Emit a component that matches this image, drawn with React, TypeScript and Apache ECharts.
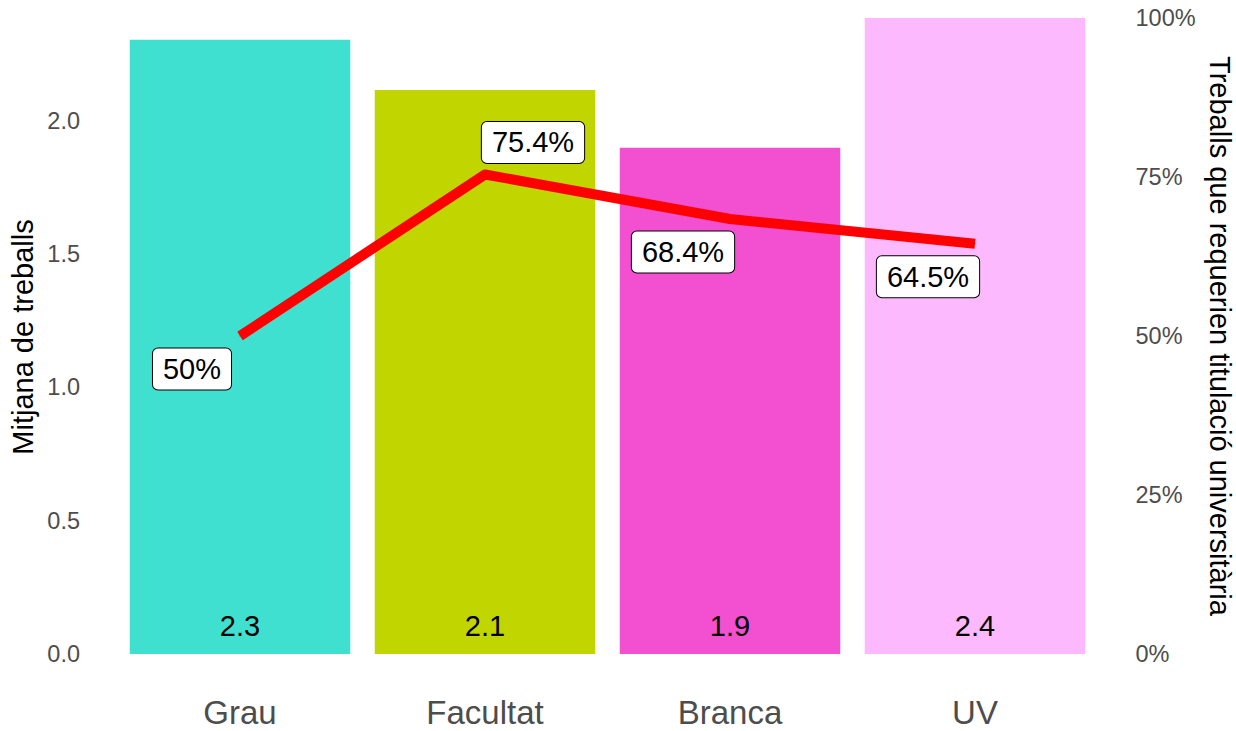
import React, { useEffect, useRef } from "react";
import * as echarts from "echarts";

const categories = ["Grau", "Facultat", "Branca", "UV"];
const meanJobs = [2.304, 2.116, 1.899, 2.386];
const pctDegree = [50, 75.4, 68.4, 64.5];
const barColors = ["#40E0D0", "#C1D500", "#F24FD1", "#FDB9FD"];
const leftTickStep = 0.5;
const rightTickStep = 25;

// label offsets (styling only)
const lineLabelOffsets = [
  [-48, 33],
  [48, -32],
  [-47, 33],
  [-47, 33],
];

const FONT = "'Liberation Sans', Arial, Helvetica, sans-serif";

export default function App() {
  const ref = useRef<HTMLDivElement>(null);
  useEffect(() => {
    if (!ref.current) return;
    const chart = echarts.init(ref.current, null, { renderer: "svg" });
    const leftMax = Math.max(...meanJobs);
    const option: any = {
      animation: false,
      backgroundColor: "#ffffff",
      textStyle: { fontFamily: FONT },
      grid: { left: 117.5, right: 138.5, top: 18, bottom: 77, containLabel: false },
      xAxis: {
        type: "category",
        data: categories,
        boundaryGap: true,
        axisLine: { show: false },
        axisTick: { show: false },
        splitLine: { show: false },
        axisLabel: {
          color: "#4D4D4D",
          fontSize: 33,
          lineHeight: 33,
          margin: 42,
          fontFamily: FONT,
        },
      },
      yAxis: [
        {
          type: "value",
          min: 0,
          max: leftMax,
          interval: leftTickStep,
          axisLine: { show: false },
          axisTick: { show: false },
          splitLine: { show: false },
          axisLabel: {
            color: "#4D4D4D",
            fontSize: 23.5,
            margin: 37.5,
            fontFamily: FONT,
            formatter: (v: number) => {
              const k = v / leftTickStep;
              return Math.abs(k - Math.round(k)) < 1e-6 ? v.toFixed(1) : "";
            },
          },
        },
        {
          type: "value",
          min: 0,
          max: 100,
          interval: rightTickStep,
          position: "right",
          axisLine: { show: false },
          axisTick: { show: false },
          splitLine: { show: false },
          axisLabel: {
            color: "#4D4D4D",
            fontSize: 23.5,
            margin: 38,
            fontFamily: FONT,
            formatter: (v: number) => `${v}%`,
          },
        },
      ],
      series: [
        {
          type: "bar",
          yAxisIndex: 0,
          barCategoryGap: "10%",
          data: meanJobs.map((v, i) => ({ value: v, itemStyle: { color: barColors[i] } })),
          label: {
            show: true,
            position: "insideBottom",
            distance: 14,
            color: "#000000",
            fontSize: 29,
            lineHeight: 29,
            fontFamily: FONT,
            formatter: (p: any) => Number(p.value).toFixed(1),
          },
          z: 1,
        },
        {
          type: "line",
          yAxisIndex: 1,
          data: pctDegree.map((v, i) => ({
            value: v,
            label: { offset: lineLabelOffsets[i] },
          })),
          symbol: "circle",
          symbolSize: 1,
          showSymbol: true,
          itemStyle: { color: "#FF0000" },
          lineStyle: { color: "#FF0000", width: 10, cap: "butt", join: "round" },
          label: {
            show: true,
            position: "inside",
            color: "#000000",
            fontSize: 29,
            lineHeight: 29,
            fontFamily: FONT,
            backgroundColor: "#ffffff",
            borderColor: "#000000",
            borderWidth: 1,
            borderRadius: 5,
            padding: [6, 10, 6, 10],
            formatter: (p: any) => `${p.value}%`,
          },
          z: 5,
        },
      ],
      graphic: [
        {
          type: "text",
          x: 23,
          y: 337,
          rotation: Math.PI / 2,
          style: {
            text: "Mitjana de treballs",
            fill: "#000000",
            font: `29px ${FONT}`,
            textAlign: "center",
            textVerticalAlign: "middle",
          },
        },
        {
          type: "text",
          x: 1220,
          y: 336,
          rotation: -Math.PI / 2,
          style: {
            text: "Treballs que requerien titulació universitària",
            fill: "#000000",
            font: `29px ${FONT}`,
            textAlign: "center",
            textVerticalAlign: "middle",
          },
        },
      ],
    };
    chart.setOption(option);
    return () => chart.dispose();
  }, []);
  return (
    <div
      ref={ref}
      style={{ position: "fixed", left: 0, top: 0, width: 1236, height: 731, background: "#fff" }}
    />
  );
}
